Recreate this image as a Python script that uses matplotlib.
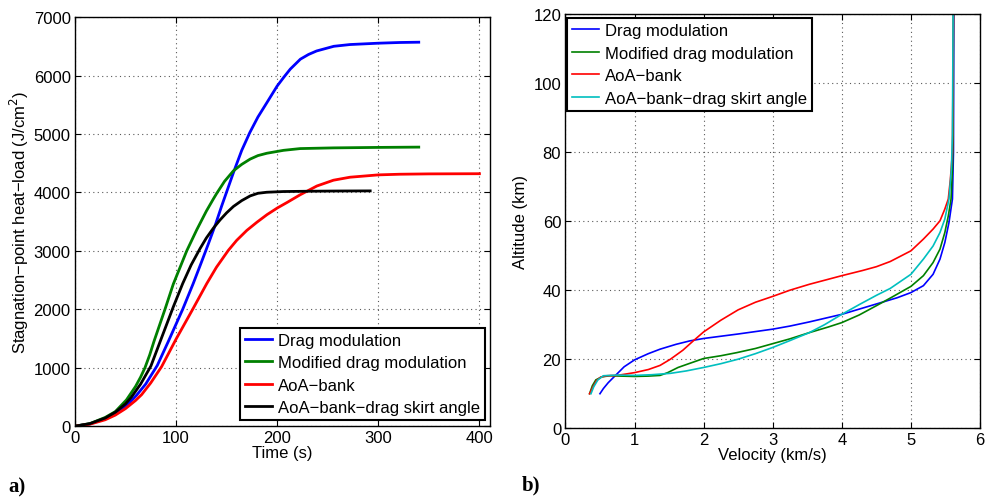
import matplotlib
matplotlib.use("Agg")
import matplotlib.pyplot as plt

plt.rcParams['font.family'] = ['Liberation Sans', 'DejaVu Sans']

# (a) heat load vs time
t_drag = [0, 15, 30, 40, 50, 61, 70, 81.5, 92.4, 106.6, 117, 125, 132, 139, 145, 157, 165, 173,
          181, 190, 200, 207, 213, 223, 231, 239, 256, 272, 300, 321, 340]
q_drag = [0, 40, 130, 210, 330, 530, 720, 1040, 1450, 2000, 2440, 2800, 3120, 3450, 3760, 4350, 4720, 5025,
          5290, 5540, 5820, 5980, 6110, 6280, 6360, 6420, 6500, 6530, 6553, 6565, 6570]
t_mod = [0, 15, 30, 40, 51, 60, 65, 69.3, 74, 78.2, 89.1, 97.3, 110.6, 120.5, 130, 137, 140.3, 148, 156.8,
         165, 173.3, 181, 189.8, 206.3, 222.8, 255.7, 300, 340]
q_mod = [0, 45, 150, 250, 450, 680, 840, 1000, 1220, 1450, 2000, 2430, 3000, 3360, 3680, 3890, 3985, 4190, 4370,
         4480, 4570, 4630, 4670, 4720, 4750, 4762, 4770, 4775]
t_aoa = [0, 15, 30, 40, 50, 60, 66, 75, 85.8, 100, 116.5, 130.4, 140, 151.8, 160, 170, 180, 190, 200.3,
         210, 222.8, 239.3, 255.7, 272, 300, 321, 350, 400]
q_aoa = [0, 35, 110, 190, 300, 440, 540, 740, 1020, 1488, 2000, 2440, 2720, 3010, 3180, 3350, 3490, 3620, 3735,
         3830, 3960, 4110, 4209, 4260, 4300, 4311, 4317, 4320]
t_skirt = [0, 15, 30, 40, 50, 56, 65, 75.2, 84.8, 97.3, 106.6, 115, 123.8, 130, 137, 143.6, 150, 156.8,
           165, 173.3, 181, 189.8, 206.3, 230, 260, 292]
q_skirt = [0, 45, 140, 240, 380, 500, 720, 1030, 1470, 2040, 2440, 2760, 3040, 3220, 3390, 3530, 3650, 3760,
           3860, 3940, 3985, 4003, 4015, 4020, 4024, 4026]

# (b) altitude vs velocity
v_drag = [0.50, 0.55, 0.62, 0.72, 0.85, 1.0, 1.2, 1.37, 1.6, 1.8, 2.0, 2.5, 3.0, 3.25, 3.53, 4.0, 4.5,
          4.8, 5.0, 5.18, 5.32, 5.42, 5.49, 5.55, 5.60, 5.615, 5.62]
h_drag = [10, 11.5, 13.2, 15.2, 17.8, 19.8, 21.6, 22.9, 24.3, 25.3, 26.0, 27.3, 28.7, 29.6, 30.8, 33.0, 36.0,
          37.8, 39.3, 41.3, 44.6, 49, 53.8, 59.6, 66.4, 80, 120]
v_mod = [0.35, 0.39, 0.44, 0.53, 0.65, 0.8, 1.0, 1.2, 1.37, 1.48, 1.63, 1.8, 2.0, 2.25, 2.48, 2.75, 3.0,
         3.25, 3.53, 3.8, 4.0, 4.25, 4.5, 4.7, 5.0, 5.18, 5.32, 5.42, 5.49, 5.54, 5.58, 5.60, 5.61, 5.615]
h_mod = [10, 12.3, 14.0, 14.9, 15.2, 15.1, 15.0, 15.1, 15.3, 16.1, 17.6, 18.8, 20.2, 21.0, 21.9, 23.1, 24.5,
         25.9, 27.7, 29.3, 30.6, 32.8, 35.5, 37.7, 41.1, 44.2, 48, 51.9, 56.7, 61.5, 66.4, 75, 85, 120]
v_aoa = [0.35, 0.40, 0.45, 0.51, 0.6, 0.75, 1.0, 1.2, 1.37, 1.52, 1.7, 1.85, 2.0, 2.25, 2.5, 2.75, 3.0,
         3.25, 3.53, 4.0, 4.3, 4.5, 4.7, 5.0, 5.18, 5.32, 5.42, 5.49, 5.54, 5.57, 5.6, 5.615]
h_aoa = [10, 12, 13.8, 14.8, 15.2, 15.3, 16.1, 17, 18.2, 20, 22.6, 25.3, 27.9, 31.3, 34.3, 36.5, 38.2,
         40, 41.7, 44.2, 45.7, 46.8, 48.3, 51.4, 54.8, 57.7, 60.1, 63.5, 66.4, 72, 80, 120]
v_skirt = [0.37, 0.41, 0.47, 0.55, 0.75, 1.0, 1.25, 1.52, 1.75, 2.0, 2.25, 2.5, 2.75, 3.0, 3.25, 3.53,
           3.75, 4.0, 4.25, 4.5, 4.7, 5.0, 5.18, 5.32, 5.42, 5.49, 5.55, 5.585, 5.60, 5.61]
h_skirt = [10, 12, 14, 15.2, 15.4, 15.3, 15.5, 15.9, 16.6, 17.6, 18.7, 20.0, 21.6, 23.4, 25.4, 27.7,
           30, 33.0, 35.8, 38.5, 40.5, 44.6, 49, 52.8, 56.7, 60.6, 66.4, 75, 85, 120]

labels = ['Drag modulation', 'Modified drag modulation', 'AoA\u2212bank', 'AoA\u2212bank\u2212drag skirt angle']

fig = plt.figure(figsize=(9.85, 5.02), dpi=100)
ax1 = fig.add_axes([0.076, 0.149, 0.421, 0.815])
ax2 = fig.add_axes([0.574, 0.145, 0.421, 0.825])

ax1.plot(t_drag, q_drag, color='#0000ff', lw=2, label=labels[0])
ax1.plot(t_mod, q_mod, color='#008000', lw=2, label=labels[1])
ax1.plot(t_aoa, q_aoa, color='#ff0000', lw=2, label=labels[2])
ax1.plot(t_skirt, q_skirt, color='k', lw=2, label=labels[3])
ax1.set_xlim(0, 410)
ax1.set_ylim(0, 7000)
ax1.set_xticks([0, 100, 200, 300, 400])
ax1.set_yticks(range(0, 7001, 1000))
ax1.set_xlabel('Time (s)', fontsize=12, labelpad=0)
ax1.set_ylabel('Stagnation\u2212point heat\u2212load (J/cm$^2$)', fontsize=12, labelpad=2)
leg1 = ax1.legend(loc='lower right', bbox_to_anchor=(0.99, 0.015), fontsize=12,
                  fancybox=False, edgecolor='k', framealpha=1, handlelength=1.6,
                  handletextpad=0.4, labelspacing=0.45, borderpad=0.3, borderaxespad=0)
leg1.get_frame().set_linewidth(1.5)

ax2.plot(v_drag, h_drag, color='#0000ff', lw=1.2, label=labels[0])
ax2.plot(v_mod, h_mod, color='#008000', lw=1.2, label=labels[1])
ax2.plot(v_aoa, h_aoa, color='#ff0000', lw=1.2, label=labels[2])
ax2.plot(v_skirt, h_skirt, color='#00bfbf', lw=1.2, label=labels[3])
ax2.set_xlim(0, 6)
ax2.set_ylim(0, 120)
ax2.set_xticks(range(0, 7))
ax2.set_yticks(range(0, 121, 20))
ax2.set_xlabel('Velocity (km/s)', fontsize=12, labelpad=0)
ax2.set_ylabel('Altitude (km)', fontsize=12, labelpad=4)
leg2 = ax2.legend(loc='upper left', bbox_to_anchor=(0.004, 0.99), fontsize=12,
                  fancybox=False, edgecolor='k', framealpha=1, handlelength=1.6,
                  handletextpad=0.4, labelspacing=0.45, borderpad=0.3, borderaxespad=0)
leg2.get_frame().set_linewidth(1.5)

for ax in (ax1, ax2):
    ax.grid(True, linestyle=(0, (1, 3)), color='0.35', lw=0.8)
    ax.tick_params(direction='in', top=True, right=True, labelsize=12, length=4, pad=3)
    for s in ax.spines.values():
        s.set_linewidth(1.0)

fig.text(0.008, 0.018, 'a)', fontsize=15, fontweight='bold', family='Liberation Serif')
fig.text(0.530, 0.022, 'b)', fontsize=15, fontweight='bold', family='Liberation Serif')

fig.savefig('out.png', dpi=100)
